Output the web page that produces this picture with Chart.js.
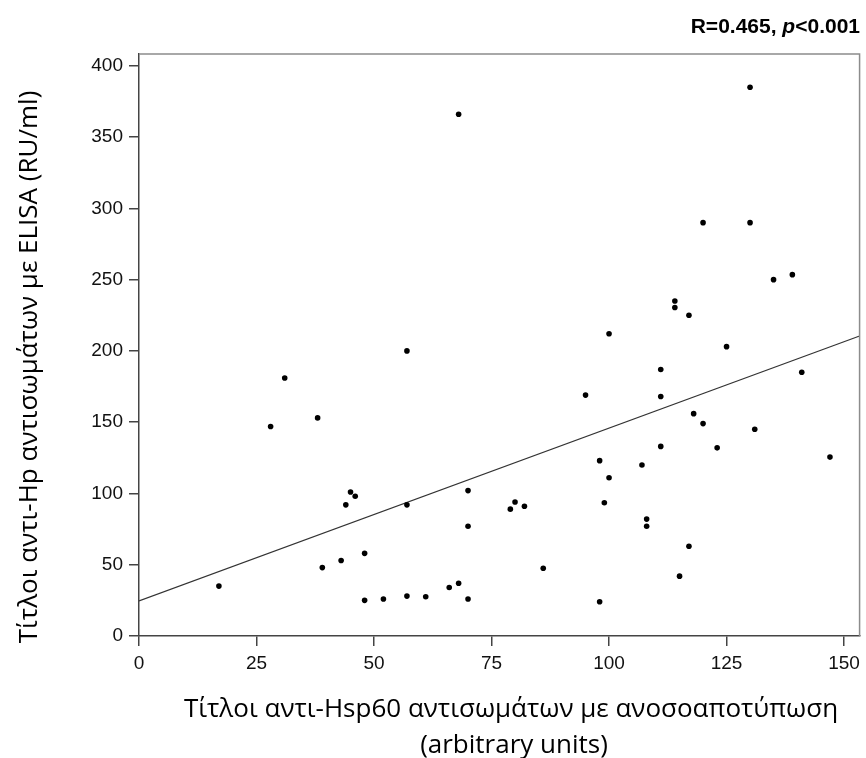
<!DOCTYPE html>
<html>
<head>
<meta charset="utf-8">
<script src="https://cdn.jsdelivr.net/npm/chart.js@4.4.1/dist/chart.umd.min.js"></script>
<style>
  html, body { margin: 0; padding: 0; background: #fff; }
  #wrap { width: 866px; height: 758px; }
</style>
</head>
<body>
<div id="wrap"><canvas id="scatter" width="866" height="758"></canvas></div>
<script>
// Σημεία (anti-Hsp60, anti-Hp)
const hspValues = [
    17, 28, 31, 38, 39, 43, 44, 45, 46, 48, 48, 52, 57, 57, 57, 61, 66, 68, 68, 70, 70, 70,
    79, 80, 82, 86, 95, 98, 98, 99, 100, 100, 107, 108, 108, 111, 111, 111, 114, 114, 115,
    117, 117, 118, 120, 120, 123, 125, 130, 130, 131, 135, 139, 141, 147
];
const hpValues = [
    35, 147, 181, 153, 48, 53, 92, 101, 98, 58, 25, 26, 200, 92, 28, 27.5, 34, 37, 366, 102, 77, 26,
    89, 94, 91, 47.5, 169, 123, 24, 93.5, 212, 111, 120, 82, 77, 187, 168, 133, 235, 230.5, 42,
    225, 63, 156, 290, 149, 132, 203, 385, 290, 145, 250, 253.5, 185, 125.5
];

// Γραμμή παλινδρόμησης (άκρα)
const fitX = [0, 153.3];
const fitY = [24.6, 210.5];

const xTicks = [0, 25, 50, 75, 100, 125, 150];
const yTicks = [0, 50, 100, 150, 200, 250, 300, 350, 400];

const xTitleLines = ['Τίτλοι αντι-Hsp60 αντισωμάτων με ανοσοαποτύπωση', '(arbitrary units)'];
const yTitle = 'Τίτλοι αντι-Hp αντισωμάτων με ELISA (RU/ml)';
const statText = 'R=0.465, ';
const statP = 'p';
const statRest = '<0.001';

const greekFont = '"Open Sans", "Noto Sans", sans-serif';
const tickFont = '"Liberation Sans", Arial, sans-serif';

// Πλαίσιο γύρω από την περιοχή γραφήματος
const framePlugin = {
    id: 'frame',
    afterDraw(chart) {
        const { ctx, chartArea: a } = chart;
        ctx.save();
        ctx.strokeStyle = '#8c8c8c';
        ctx.lineWidth = 1.5;
        ctx.beginPath();
        ctx.moveTo(a.left, a.top);
        ctx.lineTo(a.right, a.top);
        ctx.lineTo(a.right, a.bottom);
        ctx.stroke();
        ctx.restore();
    }
};

// Τίτλοι αξόνων και στατιστικό
const textPlugin = {
    id: 'texts',
    afterDraw(chart) {
        const { ctx } = chart;
        ctx.save();
        ctx.fillStyle = '#000';

        ctx.font = '26px ' + greekFont;
        ctx.textAlign = 'center';
        ctx.textBaseline = 'alphabetic';
        ctx.fillText(xTitleLines[0], 511, 717);
        ctx.fillText(xTitleLines[1], 514, 753);

        ctx.save();
        ctx.translate(37, 367);
        ctx.rotate(-Math.PI / 2);
        ctx.fillText(yTitle, 0, 0);
        ctx.restore();

        // R=0.465, p<0.001 (δεξιά στοίχιση)
        const bold = 'bold 21px ' + tickFont;
        const boldIt = 'italic bold 21px ' + tickFont;
        ctx.font = bold;
        const w1 = ctx.measureText(statText).width;
        const w3 = ctx.measureText(statRest).width;
        ctx.font = boldIt;
        const w2 = ctx.measureText(statP).width;
        let x = 860 - (w1 + w2 + w3);
        ctx.textAlign = 'left';
        ctx.font = bold;
        ctx.fillText(statText, x, 33);
        x += w1;
        ctx.font = boldIt;
        ctx.fillText(statP, x, 33);
        x += w2;
        ctx.font = bold;
        ctx.fillText(statRest, x, 33);
        ctx.restore();
    }
};

function createChart() {
    const canvas = document.getElementById('scatter');
    const ctx = canvas.getContext('2d');

    const points = hspValues.map((x, i) => ({ x: x, y: hpValues[i] }));
    const fitLine = fitX.map((x, i) => ({ x: x, y: fitY[i] }));

    new Chart(ctx, {
        type: 'scatter',
        data: {
            datasets: [
                {
                    data: points,
                    backgroundColor: '#000',
                    borderColor: '#000',
                    pointRadius: 2.8,
                    pointBorderWidth: 0
                },
                {
                    type: 'line',
                    data: fitLine,
                    borderColor: '#333',
                    borderWidth: 1.2,
                    pointRadius: 0,
                    fill: false
                }
            ]
        },
        options: {
            responsive: false,
            animation: false,
            layout: { padding: { top: 54, right: 2, left: 0, bottom: 0 } },
            plugins: {
                legend: { display: false },
                tooltip: { enabled: false }
            },
            scales: {
                x: {
                    type: 'linear',
                    min: 0,
                    max: 153.3,
                    afterFit(scale) { scale.height = 122; },
                    afterBuildTicks(scale) { scale.ticks = xTicks.map(v => ({ value: v })); },
                    ticks: {
                        color: '#111',
                        font: { family: tickFont, size: 19 },
                        padding: 6,
                        maxRotation: 0
                    },
                    grid: {
                        display: true,
                        drawOnChartArea: false,
                        drawTicks: true,
                        tickLength: 10,
                        color: '#444',
                        lineWidth: 1.5
                    },
                    border: { display: true, color: '#444', width: 1.5 }
                },
                y: {
                    type: 'linear',
                    min: 0,
                    max: 408.3,
                    afterFit(scale) { scale.width = 139; },
                    afterBuildTicks(scale) { scale.ticks = yTicks.map(v => ({ value: v })); },
                    ticks: {
                        color: '#111',
                        font: { family: tickFont, size: 19 },
                        padding: 6
                    },
                    grid: {
                        display: true,
                        drawOnChartArea: false,
                        drawTicks: true,
                        tickLength: 10,
                        color: '#444',
                        lineWidth: 1.5
                    },
                    border: { display: true, color: '#444', width: 1.5 }
                }
            }
        },
        plugins: [framePlugin, textPlugin]
    });
}

if (typeof document !== 'undefined') {
    document.addEventListener('DOMContentLoaded', createChart);
}
</script>
</body>
</html>
